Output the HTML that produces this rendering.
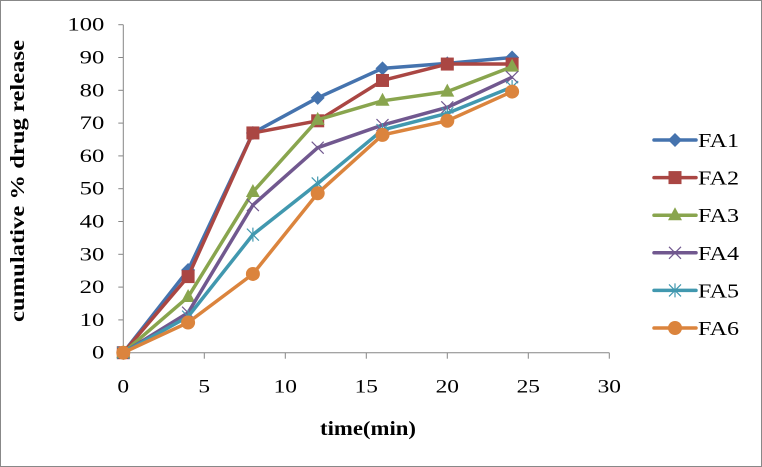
<!DOCTYPE html>
<html><head><meta charset="utf-8"><style>
body{margin:0;background:#fff}
svg{display:block;font-family:"Liberation Serif",serif}
</style></head><body>
<svg id="chart" width="762" height="467">
<rect x="0.5" y="0.5" width="761" height="466" fill="#fff" stroke="#888"/>
<g id="axes"></g><g id="series"></g><g id="legend"></g>
<text x="368" y="435" text-anchor="middle" font-weight="bold" font-size="20" textLength="96" lengthAdjust="spacingAndGlyphs">time(min)</text>
<text transform="translate(24,181) rotate(-90)" text-anchor="middle" font-weight="bold" font-size="20" textLength="282" lengthAdjust="spacingAndGlyphs">cumulative % drug release</text>
</svg>
<script>
const times=[0,4,8,12,16,20,24];
const seriesNames=["FA1","FA2","FA3","FA4","FA5","FA6"];
const fa1=[0,25.2,67,77.7,86.7,88.2,90];
const fa2=[0,23.2,67,70.7,83,88,88];
const fa3=[0,17,49,71,76.8,79.6,87.2];
const fa4=[0,12.2,45,62.5,69.4,74.8,84];
const fa5=[0,11,36,51.6,67.9,73,81];
const fa6=[0,9.2,24,48.6,66.4,70.7,79.6];
const xTicks=[0,5,10,15,20,25,30];
const yTicks=[0,10,20,30,40,50,60,70,80,90,100];
const colors=["#4573ae","#aa4643","#89a54e","#71588f","#4198af","#db843d"];
const markers=["diamond","square","triangle","x","star","circle"];
const all=[fa1,fa2,fa3,fa4,fa5,fa6];
const NS="http://www.w3.org/2000/svg";
const X=v=>123.3+v*16.2, Y=v=>352.7-v*3.28;
function mk(t,a,p){const e=document.createElementNS(NS,t);for(const k in a)e.setAttribute(k,a[k]);p.appendChild(e);return e;}
const ax=document.getElementById('axes');
let l=mk('line',{x1:X(0),y1:Y(0),x2:X(30),y2:Y(0),stroke:'#868686'},ax);


l=mk('line',{x1:X(0),y1:Y(0),x2:X(0),y2:Y(100),stroke:'#868686'},ax);


xTicks.forEach(t=>{mk('line',{x1:X(t),y1:Y(0),x2:X(t),y2:Y(0)+6,stroke:'#868686'},ax);
 const s=String(t);
 const tx=mk('text',{x:X(t),y:Y(0)+40,'text-anchor':'middle','font-size':19,textLength:s.length*11.7,lengthAdjust:'spacingAndGlyphs'},ax);tx.textContent=s;
 
 });
yTicks.forEach(t=>{mk('line',{x1:X(0)-5,y1:Y(t),x2:X(0),y2:Y(t),stroke:'#868686'},ax);
 const s=String(t);
 const tx=mk('text',{x:X(0)-19,y:Y(t)+6,'text-anchor':'end','font-size':19,textLength:s.length*12.3,lengthAdjust:'spacingAndGlyphs'},ax);tx.textContent=s;
 
 });
function marker(g,type,x,y,c){
 if(type=='diamond')mk('polygon',{points:`${x},${y-7} ${x+7},${y} ${x},${y+7} ${x-7},${y}`,fill:c},g);
 else if(type=='square')mk('rect',{x:x-6.5,y:y-6.5,width:13,height:13,fill:c},g);
 else if(type=='triangle')mk('polygon',{points:`${x},${y-8} ${x+7},${y+5} ${x-7},${y+5}`,fill:c},g);
 else if(type=='circle')mk('circle',{cx:x,cy:y,r:7,fill:c},g);
 else{mk('path',{d:`M${x-6} ${y-6}L${x+6} ${y+6}M${x-6} ${y+6}L${x+6} ${y-6}`+(type=='star'?`M${x} ${y-7}V${y+7}`:''),stroke:c,'stroke-width':1.2},g);}
}
const sg=document.getElementById('series'),lg=document.getElementById('legend');
all.forEach((d,i)=>{
 const g=mk('g',{},sg);
 
 
 mk('polyline',{points:d.map((v,j)=>X(times[j])+','+Y(v)).join(' '),fill:'none',stroke:colors[i],'stroke-width':3.5,'stroke-linejoin':'round'},g);
 d.forEach((v,j)=>marker(g,markers[i],X(times[j]),Y(v),colors[i]));
 const ly=140+i*37.6;
 const le=mk('g',{},lg);
 
 
 mk('line',{x1:654,y1:ly,x2:696,y2:ly,stroke:colors[i],'stroke-width':3.5,'stroke-linecap':'round'},le);
 marker(le,markers[i],675,ly,colors[i]);
 const t=mk('text',{x:698,y:ly+7,'font-size':20,textLength:41,lengthAdjust:'spacingAndGlyphs'},le);t.textContent=seriesNames[i];
});
</script>
</body></html>
